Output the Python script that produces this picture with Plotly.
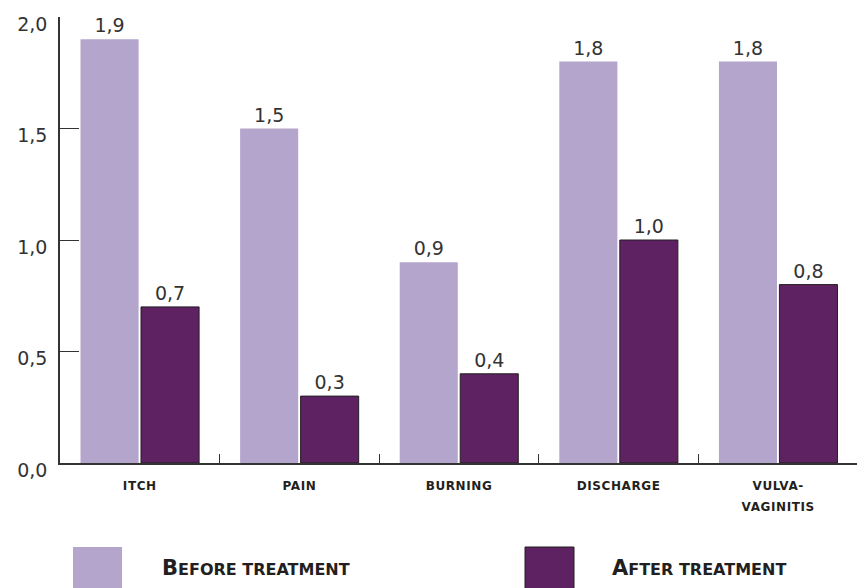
import plotly.graph_objects as go

categories = ["ITCH", "PAIN", "BURNING", "DISCHARGE", "VULVA-<br>VAGINITIS"]
before_vals = [1.9, 1.5, 0.9, 1.8, 1.8]
after_vals = [0.7, 0.3, 0.4, 1.0, 0.8]
y_ticks = [0, 0.5, 1.0, 1.5, 2.0]
y_tick_text = ["0,0", "0,5", "1,0", "1,5", "2,0"]
series_names = ["Before treatment", "After treatment"]

C_BEFORE = "#B3A5CB"
C_AFTER = "#5E2263"
TXT = "#231F20"

# The page body has an 8px margin, so the figure is sized and placed to compensate.
W, H = 857, 580

fig = go.Figure()
fig.add_trace(go.Bar(
    x=categories, y=before_vals, name=series_names[0],
    marker=dict(color=C_BEFORE, line=dict(width=0)),
    texttemplate="%{y:.1f}", textposition="outside", constraintext="none",
    textfont=dict(family="DejaVu Sans", size=19, color="#333333"), cliponaxis=False,
))
fig.add_trace(go.Bar(
    x=categories, y=after_vals, name=series_names[1],
    marker=dict(color=C_AFTER, line=dict(width=1, color="#231F20")),
    texttemplate="%{y:.1f}", textposition="outside", constraintext="none",
    textfont=dict(family="DejaVu Sans", size=19, color="#333333"), cliponaxis=False,
))

fig.update_layout(
    width=W, height=H,
    margin=dict(l=52, r=7, t=9, b=125, autoexpand=False),
    plot_bgcolor="white", paper_bgcolor="white",
    separators=",.",
    barmode="group", bargap=0.242, bargroupgap=0.04,
    showlegend=False,
    font=dict(family="DejaVu Sans", color=TXT),
)
fig.update_yaxes(
    range=[0, 2], tickvals=y_ticks, ticktext=y_tick_text,
    showgrid=False, zeroline=False, automargin=False,
    showline=True, linecolor="#333333", linewidth=1.5,
    ticks="inside", ticklen=19, tickwidth=1.4, tickcolor="#333333",
    ticklabelstandoff=7, ticklabelshift=7,
    tickfont=dict(family="DejaVu Sans", size=19, color="#333333"),
)

x_labels = [f"<span style='font-size:12px;letter-spacing:0.6px'>{c}</span>".replace(
    "<br>", "</span><br><span style='font-size:12px;letter-spacing:0.6px'>") for c in categories]

fig.update_xaxes(
    showgrid=False, showline=True, linecolor="#333333", linewidth=1.5,
    automargin=False,
    ticks="inside", tickson="boundaries", ticklen=9, tickwidth=1.2, tickcolor="#333333",
    tickvals=categories, ticktext=x_labels,
    ticklabelstandoff=6,
    tickfont=dict(family="DejaVu Sans", size=16, color=TXT, weight="bold"),
)

# manual legend (positions given in screenshot pixels)
def px_x(px):
    return (px - 60) / 798.0

def px_y(py):
    return (463 - py) / 446.0

fig.add_shape(type="rect", xref="paper", yref="paper",
              x0=px_x(73), x1=px_x(122), y0=px_y(592), y1=px_y(547),
              fillcolor=C_BEFORE, line=dict(width=0))
fig.add_shape(type="rect", xref="paper", yref="paper",
              x0=px_x(525), x1=px_x(574), y0=px_y(592), y1=px_y(547),
              fillcolor=C_AFTER, line=dict(width=1, color="#231F20"))

def small_caps(word_first, rest):
    return f"<b>{word_first}<span style='font-size:16px'>{rest}</span></b>"

fig.add_annotation(xref="paper", yref="paper", x=px_x(160), y=px_y(568),
                   xanchor="left", yanchor="middle", showarrow=False,
                   text=small_caps("B", "EFORE TREATMENT"),
                   font=dict(family="DejaVu Sans", size=21, color=TXT))
fig.add_annotation(xref="paper", yref="paper", x=px_x(610), y=px_y(568),
                   xanchor="left", yanchor="middle", showarrow=False,
                   text=small_caps("A", "FTER TREATMENT"),
                   font=dict(family="DejaVu Sans", size=21, color=TXT))

fig.write_html("out.html")
